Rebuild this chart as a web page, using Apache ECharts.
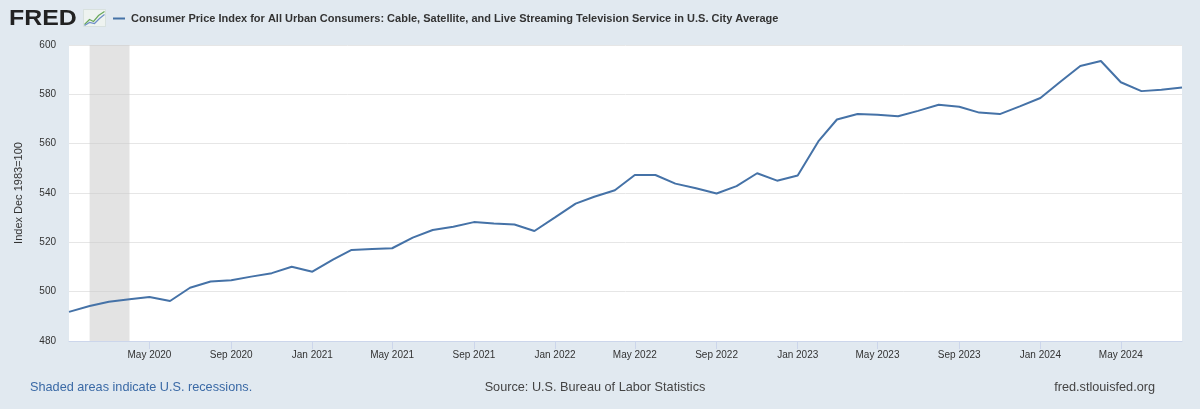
<!DOCTYPE html>
<html>
<head>
<meta charset="utf-8">
<script src="https://cdn.jsdelivr.net/npm/echarts@6/dist/echarts.min.js"></script>
<style>
html,body{margin:0;padding:0;background:#e1e9f0;}
#chart{width:1200px;height:409px;}
</style>
</head>
<body>
<div id="chart"></div>
<script>
const seriesName = 'Consumer Price Index for All Urban Consumers: Cable, Satellite, and Live Streaming Television Service in U.S. City Average';
const months = [
  '2020-01','2020-02','2020-03','2020-04','2020-05','2020-06','2020-07','2020-08','2020-09','2020-10','2020-11','2020-12',
  '2021-01','2021-02','2021-03','2021-04','2021-05','2021-06','2021-07','2021-08','2021-09','2021-10','2021-11','2021-12',
  '2022-01','2022-02','2022-03','2022-04','2022-05','2022-06','2022-07','2022-08','2022-09','2022-10','2022-11','2022-12',
  '2023-01','2023-02','2023-03','2023-04','2023-05','2023-06','2023-07','2023-08','2023-09','2023-10','2023-11','2023-12',
  '2024-01','2024-02','2024-03','2024-04','2024-05','2024-06','2024-07','2024-08'
];
const values = [
  491.8,494.2,495.9,496.9,497.8,496.2,501.6,504.1,504.6,506.1,507.5,510.1,
  508.1,513.0,516.9,517.3,517.6,521.9,525.0,526.3,528.2,527.6,527.2,524.6,
  530.1,535.7,538.5,541.1,547.3,547.3,543.8,541.9,539.8,542.8,548.0,545.0,
  547.1,560.9,569.8,572.0,571.7,571.1,573.3,575.8,575.0,572.6,572.0,575.1,
  578.5,585.3,591.5,593.5,584.9,581.3,581.9,582.8
];
const xTickMonths = ['2020-05','2020-09','2021-01','2021-05','2021-09','2022-01','2022-05','2022-09','2023-01','2023-05','2023-09','2024-01','2024-05'];
const yTicks = [480,500,520,540,560,580,600];
const recession = ['2020-02','2020-04'];
const yAxisTitle = 'Index Dec 1983=100';
const footLeft = 'Shaded areas indicate U.S. recessions.';
const footCenter = 'Source: U.S. Bureau of Labor Statistics';
const footRight = 'fred.stlouisfed.org';

const MON = ['Jan','Feb','Mar','Apr','May','Jun','Jul','Aug','Sep','Oct','Nov','Dec'];
function ts(s){const p=s.split('-');return Date.UTC(+p[0],+p[1]-1,1);}
const data = months.map((m,i)=>[ts(m),values[i]]);
const xTicks = xTickMonths.map(ts);

const chart = echarts.init(document.getElementById('chart'));
const font = '"Liberation Sans", Arial, Helvetica, sans-serif';
chart.setOption({
  backgroundColor:'#e1e9f0',
  animation:false,
  textStyle:{fontFamily:font},
  legend:{
    show:true, left:108, top:8, itemWidth:12, itemHeight:2, itemGap:0,
    icon:'rect',
    textStyle:{fontSize:11, fontWeight:'bold', color:'#333', fontFamily:font, padding:[0,0,0,1]},
    data:[seriesName]
  },
  grid:{left:69,right:18,top:45,bottom:68,show:true,backgroundColor:'#ffffff',borderWidth:0},
  xAxis:{
    type:'value',
    min:ts(months[0]), max:ts(months[months.length-1]),
    axisLine:{show:true,lineStyle:{color:'#ccd6eb',width:1}},
    axisTick:{show:true,customValues:xTicks,length:8,lineStyle:{color:'#ccd6eb'}},
    axisLabel:{
      customValues:xTicks, margin:9, fontSize:10, color:'#333', fontFamily:font,
      formatter:function(v){const d=new Date(v);return MON[d.getUTCMonth()]+' '+d.getUTCFullYear();}
    },
    splitLine:{show:false}
  },
  yAxis:{
    type:'value', min:yTicks[0], max:yTicks[yTicks.length-1], interval:20,
    name:yAxisTitle, nameLocation:'middle', nameGap:45, nameRotate:90,
    nameTextStyle:{fontSize:11,color:'#333',fontFamily:font},
    axisLine:{show:false}, axisTick:{show:false},
    axisLabel:{margin:13,fontSize:10,color:'#333',fontFamily:font},
    splitLine:{show:true,lineStyle:{color:'#e6e6e6',width:1}}
  },
  series:[{
    name:seriesName,
    type:'line',
    data:data,
    showSymbol:false,
    symbol:'none',
    lineStyle:{color:'#4572a7',width:2},
    itemStyle:{color:'#4572a7'},
    markArea:{
      silent:true,
      itemStyle:{color:'rgba(200,200,200,0.5)'},
      data:[[{xAxis:ts(recession[0])},{xAxis:ts(recession[1])}]]
    },
    z:3
  }],
  graphic:[
    {type:'text',x:9,y:8,scaleX:1.13,style:{text:'FRED',font:'bold 22px '+font,fill:'#222'}},
    {type:'group',left:82,top:9,children:[
      {type:'rect',shape:{x:0,y:0,width:22,height:17},style:{fill:'#eef3f0',stroke:'#c9d4cc',lineWidth:0.5}},
      {type:'polyline',shape:{points:[[1,15],[6,10],[10,12],[15,6],[21,2]]},style:{stroke:'#6aa85a',lineWidth:1.2,fill:null}},
      {type:'polyline',shape:{points:[[1,16],[6,13],[11,14],[16,9],[21,5]]},style:{stroke:'#6d8fc7',lineWidth:1.2,fill:null}}
    ]},
    {type:'text',x:30,y:387,style:{text:footLeft,font:'12.7px '+font,fill:'#3b6aa6',textAlign:'left',textVerticalAlign:'middle'}},
    {type:'text',x:595,y:387,style:{text:footCenter,font:'12.7px '+font,fill:'#444',textAlign:'center',textVerticalAlign:'middle'}},
    {type:'text',x:1155,y:387,style:{text:footRight,font:'12.7px '+font,fill:'#444',textAlign:'right',textVerticalAlign:'middle'}}
  ]
});
</script>
</body>
</html>
